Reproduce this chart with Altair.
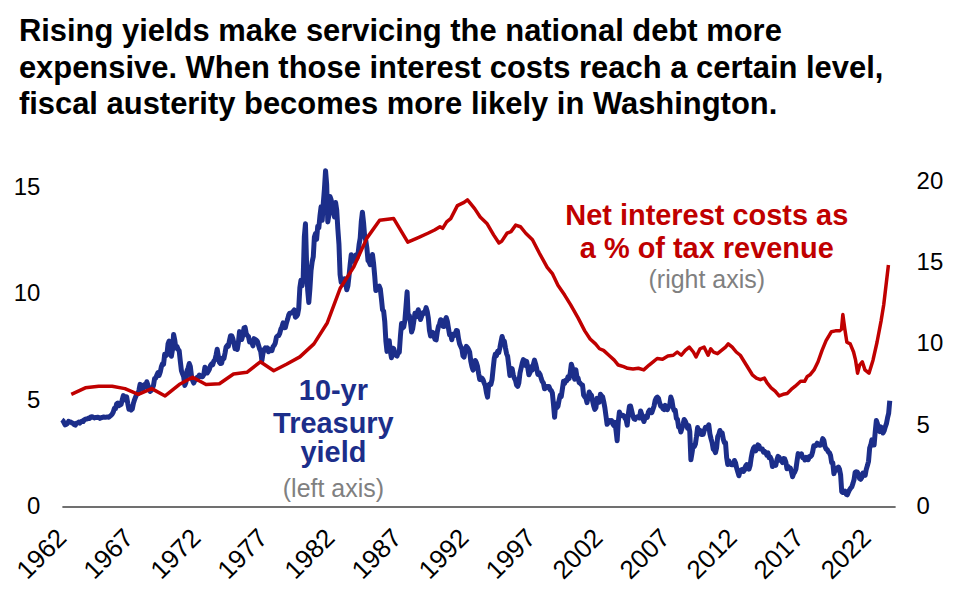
import altair as alt
import pandas as pd

# ---------------- data ----------------
yield_start_year = 1962  # monthly 10-yr Treasury yield, starting Jan 1962
treasury_yield = [
    4.08, 4.04, 3.93, 3.84, 3.87, 3.91, 4.01, 3.98, 3.98, 3.93, 3.92, 3.86,
    3.83, 3.92, 3.93, 3.97, 3.93, 3.99, 4.02, 4.00, 4.08, 4.11, 4.12, 4.13,
    4.17, 4.15, 4.22, 4.23, 4.20, 4.17, 4.19, 4.19, 4.20, 4.19, 4.15, 4.18,
    4.19, 4.21, 4.21, 4.20, 4.21, 4.21, 4.20, 4.25, 4.29, 4.35, 4.45, 4.62,
    4.61, 4.83, 4.87, 4.75, 4.78, 4.81, 5.02, 5.22, 5.18, 5.01, 5.16, 4.84,
    4.58, 4.63, 4.54, 4.59, 4.85, 5.02, 5.16, 5.28, 5.30, 5.48, 5.75, 5.70,
    5.53, 5.56, 5.74, 5.64, 5.87, 5.72, 5.50, 5.42, 5.46, 5.58, 5.70, 6.03,
    6.04, 6.19, 6.30, 6.17, 6.32, 6.57, 6.72, 6.69, 7.16, 7.10, 7.14, 7.65,
    7.79, 7.24, 7.07, 7.39, 8.10, 7.84, 7.46, 7.53, 7.39, 7.33, 6.84, 6.39,
    6.24, 6.11, 5.70, 5.83, 6.39, 6.52, 6.73, 6.58, 6.14, 5.93, 5.81, 5.93,
    5.95, 6.08, 6.07, 6.19, 6.13, 6.11, 6.11, 6.21, 6.55, 6.48, 6.28, 6.36,
    6.46, 6.64, 6.71, 6.67, 6.85, 6.90, 7.13, 7.40, 7.09, 6.79, 6.73, 6.74,
    6.99, 6.96, 7.21, 7.51, 7.58, 7.54, 7.81, 8.04, 8.04, 7.90, 7.68, 7.43,
    7.50, 7.39, 7.73, 8.23, 8.06, 7.86, 8.06, 8.40, 8.43, 8.14, 8.05, 8.00,
    7.74, 7.79, 7.73, 7.56, 7.90, 7.86, 7.83, 7.77, 7.59, 7.41, 7.29, 6.87,
    7.21, 7.39, 7.46, 7.37, 7.46, 7.28, 7.33, 7.40, 7.34, 7.52, 7.58, 7.69,
    7.96, 8.03, 8.04, 8.15, 8.35, 8.46, 8.64, 8.41, 8.42, 8.64, 8.81, 9.01,
    9.10, 9.10, 9.12, 9.18, 9.25, 8.91, 8.95, 9.03, 9.33, 10.30, 10.65, 10.39,
    10.80, 12.70, 13.30, 11.47, 10.18, 9.60, 10.25, 11.10, 11.51, 11.75, 12.68, 12.84,
    12.57, 13.19, 13.12, 13.68, 14.10, 13.47, 14.28, 14.94, 15.80, 15.15, 13.39, 13.72,
    14.59, 14.43, 13.86, 13.87, 13.62, 14.30, 13.95, 13.06, 12.34, 10.91, 10.55, 10.54,
    10.46, 10.72, 10.51, 10.20, 10.38, 10.85, 11.38, 11.85, 11.65, 11.54, 11.69, 11.83,
    11.67, 11.84, 12.32, 12.63, 13.41, 13.85, 13.36, 12.72, 12.52, 12.16, 11.57, 11.50,
    11.38, 11.51, 11.86, 11.43, 10.85, 10.16, 10.31, 10.33, 10.37, 10.24, 9.78, 9.26,
    9.19, 8.70, 7.78, 7.30, 7.71, 7.80, 7.30, 7.00, 7.45, 7.43, 7.25, 7.11,
    7.08, 7.25, 7.25, 8.02, 8.61, 8.40, 8.45, 8.76, 9.42, 10.10, 8.86, 8.99,
    8.67, 8.21, 8.37, 8.72, 9.09, 8.92, 9.06, 9.26, 8.98, 8.80, 8.96, 9.11,
    9.09, 9.17, 9.36, 9.18, 8.86, 8.28, 8.02, 8.11, 8.19, 8.01, 7.87, 7.84,
    8.21, 8.47, 8.59, 8.79, 8.76, 8.48, 8.47, 8.75, 8.89, 8.72, 8.39, 8.08,
    8.09, 7.85, 8.11, 8.04, 8.07, 8.28, 8.27, 7.90, 7.65, 7.53, 7.42, 7.09,
    7.03, 7.34, 7.54, 7.48, 7.39, 7.26, 6.84, 6.59, 6.42, 6.59, 6.87, 6.77,
    6.60, 6.26, 5.98, 5.97, 6.04, 5.96, 5.81, 5.68, 5.36, 5.15, 5.72, 5.77,
    5.75, 5.97, 6.48, 6.97, 7.18, 7.10, 7.30, 7.24, 7.46, 7.74, 8.00, 7.81,
    7.78, 7.47, 7.20, 7.06, 6.63, 6.17, 6.28, 6.49, 6.20, 6.04, 5.93, 5.71,
    5.65, 5.81, 6.27, 6.51, 6.74, 6.91, 6.87, 6.64, 6.83, 6.53, 6.20, 6.30,
    6.58, 6.42, 6.69, 6.89, 6.71, 6.49, 6.22, 6.30, 6.21, 6.03, 5.88, 5.81,
    5.54, 5.57, 5.65, 5.64, 5.65, 5.50, 5.46, 5.34, 4.81, 4.20, 4.83, 4.65,
    4.72, 5.00, 5.23, 5.18, 5.54, 5.90, 5.79, 5.94, 5.92, 6.11, 6.03, 6.28,
    6.70, 6.52, 6.26, 5.99, 6.44, 6.10, 6.05, 5.83, 5.80, 5.74, 5.72, 5.24,
    5.16, 5.10, 4.89, 5.14, 5.39, 5.28, 5.24, 4.97, 4.73, 4.57, 4.65, 5.09,
    5.04, 4.91, 5.28, 5.21, 5.16, 4.93, 4.65, 4.26, 3.87, 3.94, 4.05, 4.03,
    4.05, 3.90, 3.81, 3.96, 3.57, 3.10, 3.98, 4.45, 4.27, 4.29, 4.30, 4.27,
    4.15, 4.08, 3.83, 4.35, 4.72, 4.73, 4.50, 4.28, 4.13, 4.10, 4.19, 4.23,
    4.22, 4.17, 4.50, 4.34, 4.14, 4.00, 4.18, 4.26, 4.20, 4.46, 4.54, 4.47,
    4.42, 4.57, 4.72, 4.99, 5.11, 5.15, 5.09, 4.88, 4.72, 4.73, 4.60, 4.56,
    4.76, 4.72, 4.56, 4.69, 4.75, 5.15, 5.00, 4.67, 4.52, 4.53, 4.15, 4.10,
    3.74, 3.74, 3.51, 3.68, 3.88, 4.10, 4.01, 3.89, 3.69, 3.81, 3.53, 2.20,
    2.52, 2.87, 2.82, 2.93, 3.29, 3.72, 3.56, 3.59, 3.40, 3.39, 3.40, 3.59,
    3.73, 3.69, 3.73, 3.85, 3.42, 3.20, 3.01, 2.70, 2.65, 2.54, 2.76, 3.29,
    3.39, 3.58, 3.41, 3.46, 3.17, 3.00, 3.00, 2.30, 1.98, 2.15, 2.01, 1.98,
    1.97, 1.97, 2.17, 2.05, 1.80, 1.62, 1.45, 1.68, 1.72, 1.75, 1.65, 1.72,
    1.91, 1.98, 1.96, 1.76, 1.93, 2.30, 2.58, 2.74, 2.81, 2.62, 2.72, 2.90,
    2.86, 2.71, 2.72, 2.71, 2.56, 2.60, 2.54, 2.42, 2.53, 2.30, 2.33, 2.21,
    1.88, 1.98, 2.04, 1.94, 2.20, 2.36, 2.32, 2.17, 2.17, 2.07, 2.26, 2.24,
    2.09, 1.78, 1.89, 1.81, 1.81, 1.64, 1.40, 1.56, 1.63, 1.76, 2.14, 2.49,
    2.43, 2.42, 2.48, 2.30, 2.30, 2.19, 2.32, 2.21, 2.20, 2.36, 2.35, 2.40,
    2.58, 2.86, 2.84, 2.87, 2.98, 2.91, 2.89, 2.89, 3.00, 3.20, 3.12, 2.83,
    2.71, 2.68, 2.57, 2.53, 2.40, 2.07, 2.06, 1.55, 1.70, 1.71, 1.81, 1.86,
    1.76, 1.50, 0.70, 0.66, 0.67, 0.73, 0.58, 0.55, 0.68, 0.79, 0.87, 0.93,
    1.08, 1.26, 1.61, 1.64, 1.62, 1.52, 1.32, 1.28, 1.37, 1.58, 1.56, 1.47,
    1.76, 1.93, 2.13, 2.75, 2.90, 3.14, 2.90, 2.90, 3.52, 4.05, 3.89, 3.62,
    3.53, 3.75, 3.66, 3.46, 3.57, 3.75, 3.90, 4.17, 4.38, 4.98,
]

interest_years = [
    1962.7, 1963.75, 1964.75, 1965.75, 1966.7, 1967.7, 1968.7, 1969.7, 1970.75,
    1971.75, 1972.75, 1973.75, 1974.8, 1975.8, 1976.8, 1977.8, 1978.75, 1979.75,
    1980.8, 1981.8, 1982.75, 1983.75, 1984.75, 1985.7, 1986.75, 1987.8, 1988.5,
    1989.3, 1989.8, 1990.2, 1990.4, 1990.7, 1991.0, 1991.5, 1992.0, 1992.25,
    1992.5, 1992.8, 1993.2, 1993.7, 1994.2, 1994.6, 1994.8, 1995.2, 1995.5,
    1995.85, 1996.2, 1996.6, 1997.1, 1997.6, 1998.2, 1998.6, 1999.0, 1999.5,
    1999.95, 2000.5, 2001.0, 2001.4, 2001.8, 2002.1, 2002.4, 2002.8, 2003.2,
    2003.5, 2003.9, 2004.2, 2004.6, 2005.0, 2005.4, 2005.8, 2006.1, 2006.4,
    2006.8, 2007.2, 2007.6, 2007.9, 2008.2, 2008.5, 2008.8, 2009.1, 2009.3,
    2009.6, 2009.9, 2010.2, 2010.4, 2010.6, 2010.9, 2011.2, 2011.5, 2011.7,
    2012.0, 2012.3, 2012.6, 2012.9, 2013.2, 2013.5, 2013.8, 2014.1, 2014.4,
    2014.6, 2014.9, 2015.2, 2015.5, 2015.8, 2016.1, 2016.4, 2016.7, 2017.1,
    2017.4, 2017.6, 2017.8, 2018.1, 2018.4, 2018.7, 2019.0, 2019.4, 2019.7,
    2020.0, 2020.15, 2020.25, 2020.4, 2020.55, 2020.8, 2021.05, 2021.2, 2021.35,
    2021.5, 2021.7, 2021.9, 2022.2, 2022.5, 2022.8, 2023.1, 2023.3, 2023.5,
    2023.65,
]
interest_pct = [
    6.9, 7.3, 7.4, 7.4, 7.25, 6.9, 7.25, 6.8, 7.5,
    7.95, 7.5, 7.55, 8.15, 8.25, 8.9, 8.35, 8.75, 9.2,
    10.0, 11.3, 13.4, 14.7, 16.5, 17.6, 17.7, 16.25, 16.5,
    16.8, 17.0, 17.2, 17.1, 17.5, 17.7, 18.5, 18.7, 18.85,
    18.6, 18.3, 17.8, 17.4, 16.7, 16.2, 16.3, 16.8, 16.9,
    17.3, 17.2, 16.8, 16.4, 15.6, 14.7, 14.3, 13.6, 13.0,
    12.4, 11.6, 10.8, 10.3, 10.0, 9.7, 9.6, 9.3, 9.0,
    8.7, 8.6, 8.5, 8.45, 8.5, 8.4, 8.7, 8.9, 9.1,
    9.05, 9.25, 9.3, 9.5, 9.3, 9.6, 9.8, 9.5, 9.2,
    9.7, 9.8, 9.3, 9.7, 9.5, 9.4, 9.6, 9.8, 10.0,
    9.8, 9.5, 9.3, 8.9, 8.5, 8.1, 7.9, 7.8, 7.9,
    7.6, 7.3, 7.1, 6.8, 6.9, 6.95, 7.2, 7.4, 7.7,
    7.7, 8.0, 8.1, 8.4, 8.9, 9.6, 10.2, 10.75, 10.8,
    10.8, 10.9, 11.8, 10.9, 10.1, 10.0, 9.5, 9.0, 8.2,
    8.7, 8.9, 8.4, 8.2, 9.0, 10.1, 11.4, 12.4, 13.8,
    14.85,
]

x_ticks = [1962, 1967, 1972, 1977, 1982, 1987, 1992, 1997, 2002, 2007, 2012, 2017, 2022]
left_ticks = [0, 5, 10, 15]
right_ticks = [0, 5, 10, 15, 20]

title_lines = [
    "Rising yields make servicing the national debt more",
    "expensive. When those interest costs reach a certain level,",
    "fiscal austerity becomes more likely in Washington.",
]
blue_note_text = ["10-yr", "Treasury", "yield"]
blue_note_year = [1982.25, 1982.25, 1982.25]
blue_note_value = [5.02, 3.47, 2.11]
left_axis_note = ["(left axis)"]
left_axis_note_year = [1982.25]
left_axis_note_value = [0.47]

red_note_text = ["Net interest costs as", "a % of tax revenue"]
red_note_year = [2010.1, 2010.1]
red_note_value = [17.3, 15.28]
right_axis_note = ["(right axis)"]
right_axis_note_year = [2010.1]
right_axis_note_value = [13.44]

# ---------------- styling ----------------
FONT = "Liberation Sans"
BLUE = "#1C2E8A"
RED = "#C00000"
GRAY = "#808080"
LEFT_MAX = 15.82
RIGHT_MAX = 20.67

yld = pd.DataFrame({
    "year": [yield_start_year + i / 12 for i in range(len(treasury_yield))],
    "value": treasury_yield,
})
intr = pd.DataFrame({"year": interest_years, "value": interest_pct})
blue_note_df = pd.DataFrame({"year": blue_note_year, "value": blue_note_value, "text": blue_note_text})
left_note_df = pd.DataFrame({"year": left_axis_note_year, "value": left_axis_note_value, "text": left_axis_note})
red_note_df = pd.DataFrame({"year": red_note_year, "value": red_note_value, "text": red_note_text})
right_note_df = pd.DataFrame({"year": right_axis_note_year, "value": right_axis_note_value, "text": right_axis_note})

x_enc = alt.X(
    "year:Q",
    scale=alt.Scale(domain=[1962, 2024.15], nice=False, zero=False),
    axis=alt.Axis(
        values=x_ticks, format="d", labelAngle=-45, labelAlign="right",
        labelBaseline="middle", labelFontSize=26, labelFont=FONT, labelColor="black",
        labelPadding=27, labelFlush=False, labelOverlap=False, ticks=False, grid=False,
        domainColor="#404040", domainWidth=1.5, title=None,
    ),
)

blue_y = alt.Y(
    "value:Q",
    scale=alt.Scale(domain=[0, LEFT_MAX], nice=False),
    axis=alt.Axis(
        orient="left", values=left_ticks, ticks=False, domain=False, grid=False,
        labelFontSize=24, labelFont=FONT, labelColor="black", labelPadding=22, title=None,
    ),
)
red_y = alt.Y(
    "value:Q",
    scale=alt.Scale(domain=[0, RIGHT_MAX], nice=False),
    axis=alt.Axis(
        orient="right", values=right_ticks, ticks=False, domain=False, grid=False,
        labelFontSize=24, labelFont=FONT, labelColor="black", labelPadding=21, title=None,
    ),
)

blue_line = alt.Chart(yld).mark_line(color=BLUE, strokeWidth=5, strokeJoin="round").encode(x=x_enc, y=blue_y)
blue_text = alt.Chart(blue_note_df).mark_text(
    font=FONT, fontSize=29, fontWeight="bold", color=BLUE, align="center", baseline="alphabetic"
).encode(x="year:Q", y="value:Q", text="text:N")
left_text = alt.Chart(left_note_df).mark_text(
    font=FONT, fontSize=25, color=GRAY, align="center", baseline="alphabetic"
).encode(x="year:Q", y="value:Q", text="text:N")

red_line = alt.Chart(intr).mark_line(color=RED, strokeWidth=3.5, strokeJoin="round").encode(x="year:Q", y=red_y)
red_text = alt.Chart(red_note_df).mark_text(
    font=FONT, fontSize=29, fontWeight="bold", color=RED, align="center", baseline="alphabetic"
).encode(x="year:Q", y="value:Q", text="text:N")
right_text = alt.Chart(right_note_df).mark_text(
    font=FONT, fontSize=25, color=GRAY, align="center", baseline="alphabetic"
).encode(x="year:Q", y="value:Q", text="text:N")

chart = alt.layer(
    alt.layer(blue_line, blue_text, left_text),
    alt.layer(red_line, red_text, right_text),
).resolve_scale(y="independent").properties(
    width=835,
    height=337,
    padding={"left": 54, "top": 162, "right": 60, "bottom": 90},
    autosize=alt.AutoSizeParams(type="none"),
    title=alt.TitleParams(
        text=title_lines, anchor="start", font=FONT, fontSize=31, fontWeight="bold",
        color="black", lineHeight=36.5, dx=7, baseline="bottom", offset=16,
    ),
).configure_view(stroke=None)

chart.save("out.html", embed_options={"renderer": "svg", "actions": False})
